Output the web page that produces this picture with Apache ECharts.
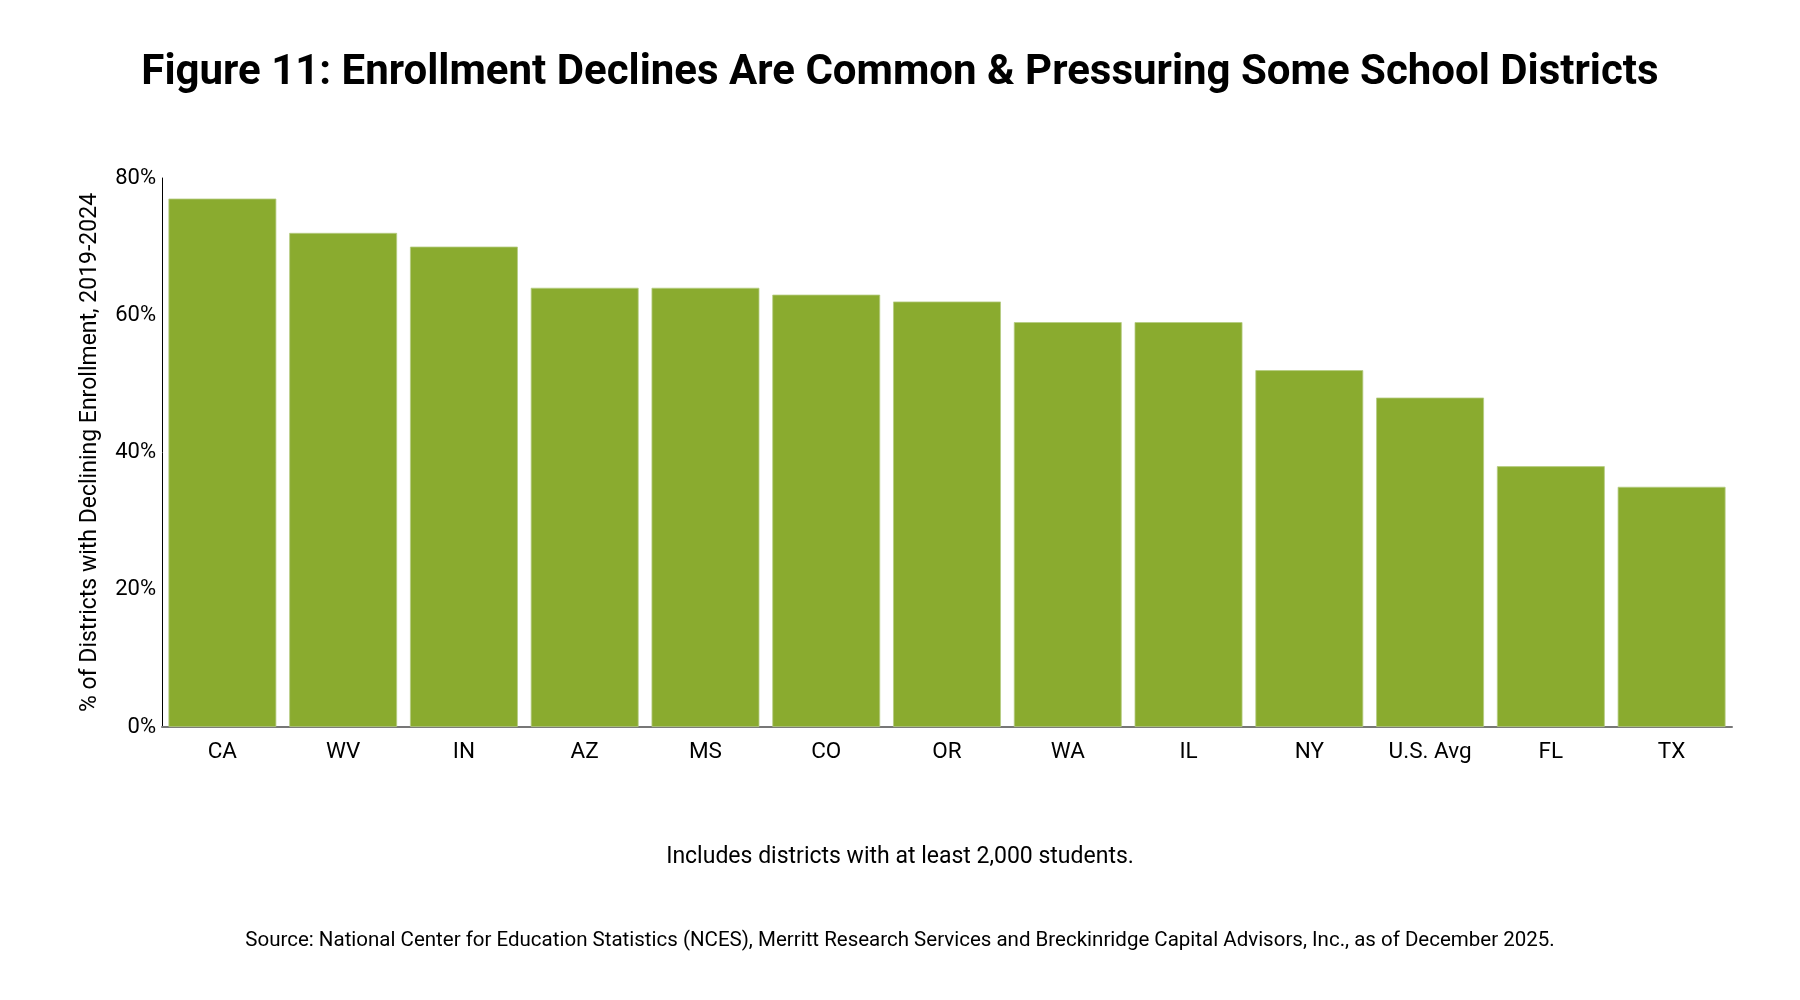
<!DOCTYPE html>
<html><head><meta charset="utf-8">
<script src="https://cdn.jsdelivr.net/npm/echarts@6/dist/echarts.min.js"></script>
<style>html,body{margin:0;padding:0;background:#fff}#c{width:1800px;height:1000px}</style>
</head><body><div id="c"></div>
<script>
const categories = ['CA','WV','IN','AZ','MS','CO','OR','WA','IL','NY','U.S. Avg','FL','TX'];
const values = [77,72,70,64,64,63,62,59,59,52,48,38,35];
const yTicks = [0,20,40,60,80];
const titleText = 'Figure 11: Enrollment Declines Are Common & Pressuring Some School Districts';
const yAxisTitle = '% of Districts with Declining Enrollment, 2019-2024';
const noteText = 'Includes districts with at least 2,000 students.';
const sourceText = 'Source: National Center for Education Statistics (NCES), Merritt Research Services and Breckinridge Capital Advisors, Inc., as of December 2025.';

const chart = echarts.init(document.getElementById('c'));
const font = 'Roboto, "Noto Sans", sans-serif';
chart.setOption({
  backgroundColor:'#fff',
  animation:false,
  title:{text:titleText,left:'center',top:47,textStyle:{fontFamily:font,fontWeight:'bold',fontSize:42,color:'#000'}},
  graphic:[
    {type:'text',left:'center',top:846,style:{text:noteText,font:'23px '+font,fill:'#000'}},
    {type:'text',left:'center',top:930,style:{text:sourceText,font:'20.5px '+font,fill:'#000'}}
  ],
  grid:{left:162,right:68,top:178,bottom:273,containLabel:false},
  xAxis:{type:'category',data:categories,
    axisLine:{lineStyle:{color:'#777',width:2}},axisTick:{show:false},
    axisLabel:{fontFamily:font,fontSize:22.5,color:'#000',margin:14}},
  yAxis:{type:'value',min:0,max:80,interval:20,
    name:yAxisTitle,nameLocation:'middle',nameGap:60,nameRotate:90,
    nameTextStyle:{fontFamily:font,fontSize:23,color:'#000'},
    axisLine:{show:true,lineStyle:{color:'#000',width:1}},axisTick:{show:false},
    splitLine:{show:false},
    axisLabel:{fontFamily:font,fontSize:22,color:'#000',margin:6,formatter:v=>yTicks.includes(v)?v+'%':''}},
  series:[{type:'bar',data:values,barCategoryGap:'10.7%',
    itemStyle:{color:'#8aab2f',borderColor:'#b5cb82',borderWidth:0.8}}]
});
</script></body></html>
